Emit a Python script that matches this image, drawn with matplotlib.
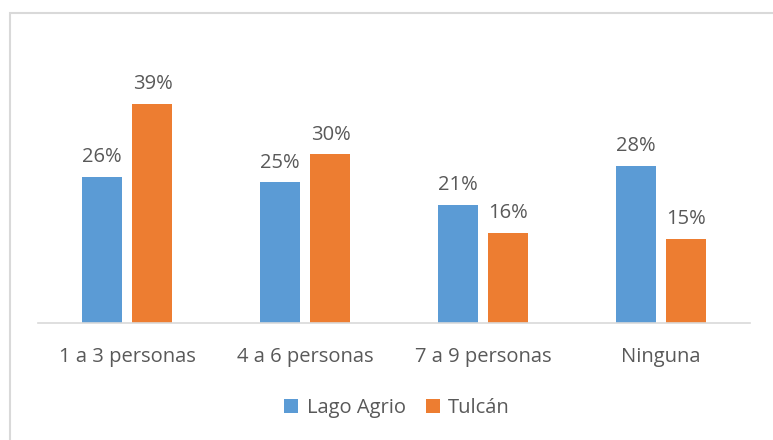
import matplotlib.pyplot as plt
from matplotlib.patches import Rectangle

categories = ["1 a 3 personas", "4 a 6 personas", "7 a 9 personas", "Ninguna"]
lago_agrio = [26, 25, 21, 28]
tulcan = [39, 30, 16, 15]

plt.rcParams['font.family'] = ['Open Sans', 'DejaVu Sans']
text_color = '#595959'
fs = 14.5

fig = plt.figure(figsize=(7.73, 4.40), dpi=100)
ax = fig.add_axes([38 / 773, 117 / 440, 712 / 773, 253 / 440])

x = range(len(categories))
w = 0.225
off = 0.143
b1 = ax.bar([i - off for i in x], lago_agrio, w, color='#5B9BD5', label='Lago Agrio')
b2 = ax.bar([i + off for i in x], tulcan, w, color='#ED7D31', label='Tulcán')

for bars, vals in ((b1, lago_agrio), (b2, tulcan)):
    for bar, v in zip(bars, vals):
        ax.annotate(f"{v}%", (bar.get_x() + bar.get_width() / 2, v),
                    xytext=(0, 7), textcoords='offset points',
                    ha='center', va='bottom', fontsize=fs, color=text_color)

ax.set_xlim(-0.5, 3.5)
ax.set_ylim(0, 45)
ax.set_xticks(list(x))
ax.set_xticklabels(categories, fontsize=fs, color=text_color)
ax.tick_params(axis='x', length=0, pad=17)
ax.set_yticks([])
for s in ['top', 'right', 'left']:
    ax.spines[s].set_visible(False)
ax.spines['bottom'].set_color('#D9D9D9')
ax.spines['bottom'].set_linewidth(1.2)

leg = fig.legend(loc='center', bbox_to_anchor=(397 / 773, 1 - 408 / 440),
                 ncol=2, frameon=False, fontsize=fs, handlelength=0.7,
                 handleheight=0.7, handletextpad=0.4, columnspacing=1.0)
for t in leg.get_texts():
    t.set_color(text_color)

fig.patches.append(Rectangle((9.5 / 773, -0.1), 1.2, 1 - 13.5 / 440 + 0.1,
                             transform=fig.transFigure, fill=False,
                             edgecolor='#D9D9D9', linewidth=1.5))

fig.savefig('out.png', dpi=100)
